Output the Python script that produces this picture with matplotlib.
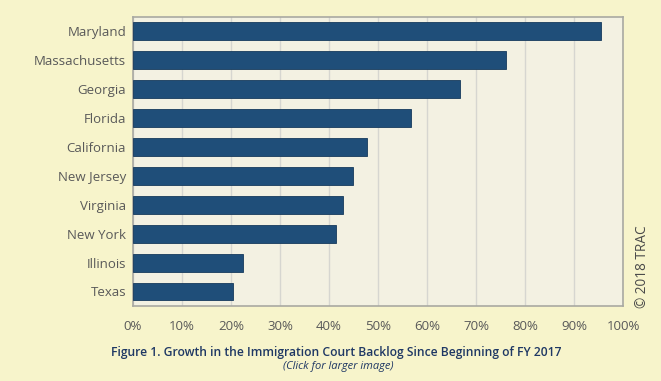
import matplotlib
matplotlib.use('Agg')
import matplotlib.pyplot as plt
import numpy as np

states = ['Maryland', 'Massachusetts', 'Georgia', 'Florida', 'California',
          'New Jersey', 'Virginia', 'New York', 'Illinois', 'Texas']
growth = [95.5, 76.1, 66.7, 56.8, 47.8, 44.8, 42.8, 41.4, 22.5, 20.5]
xticks = [0, 10, 20, 30, 40, 50, 60, 70, 80, 90, 100]

OUTER_BG = '#f7f4cb'
PLOT_BG = '#f3f1e2'
BAR = '#1f4e79'
TEXT = '#595959'
NAVY = '#1f3864'

plt.rcParams['font.family'] = ['Open Sans', 'DejaVu Sans']

fig = plt.figure(figsize=(6.61, 3.81), dpi=100, facecolor=OUTER_BG)
ax = fig.add_axes([0.2012, 0.197, 0.7413, 0.7585])
ax.set_facecolor(PLOT_BG)

y = np.arange(len(states))
ax.barh(y, growth, height=0.62, color=BAR, edgecolor='#163a5c', linewidth=0.6, zorder=3)
ax.set_ylim(len(states) - 0.5, -0.5)
ax.set_xlim(0, 100)

ax.set_xticks(xticks)
ax.set_xticklabels([f'{t}%' for t in xticks], color=TEXT, fontsize=9.5)
ax.set_yticks(y)
ax.set_yticklabels(states, color=TEXT, fontsize=9.5)
ax.tick_params(axis='both', length=0, pad=5)
ax.tick_params(axis='x', pad=10)
ax.grid(axis='x', color='#d6d6d0', linewidth=1, zorder=0)
for s in ax.spines.values():
    s.set_color('#a9a9a2')
    s.set_linewidth(1.2)

fig.text(0.9713, 0.30, '\u00a9 2018 TRAC', rotation=90, ha='center', va='center',
         color='#4a4a4a', fontsize=9.8)
fig.text(0.508, 0.075, 'Figure 1. Growth in the Immigration Court Backlog Since Beginning of FY 2017',
         ha='center', va='center', color=NAVY, fontsize=8.7, fontweight='semibold')
fig.text(0.512, 0.038, '(Click for larger image)', ha='center', va='center',
         color=NAVY, fontsize=8, style='italic')

fig.savefig('out.png', dpi=100, facecolor=OUTER_BG)
